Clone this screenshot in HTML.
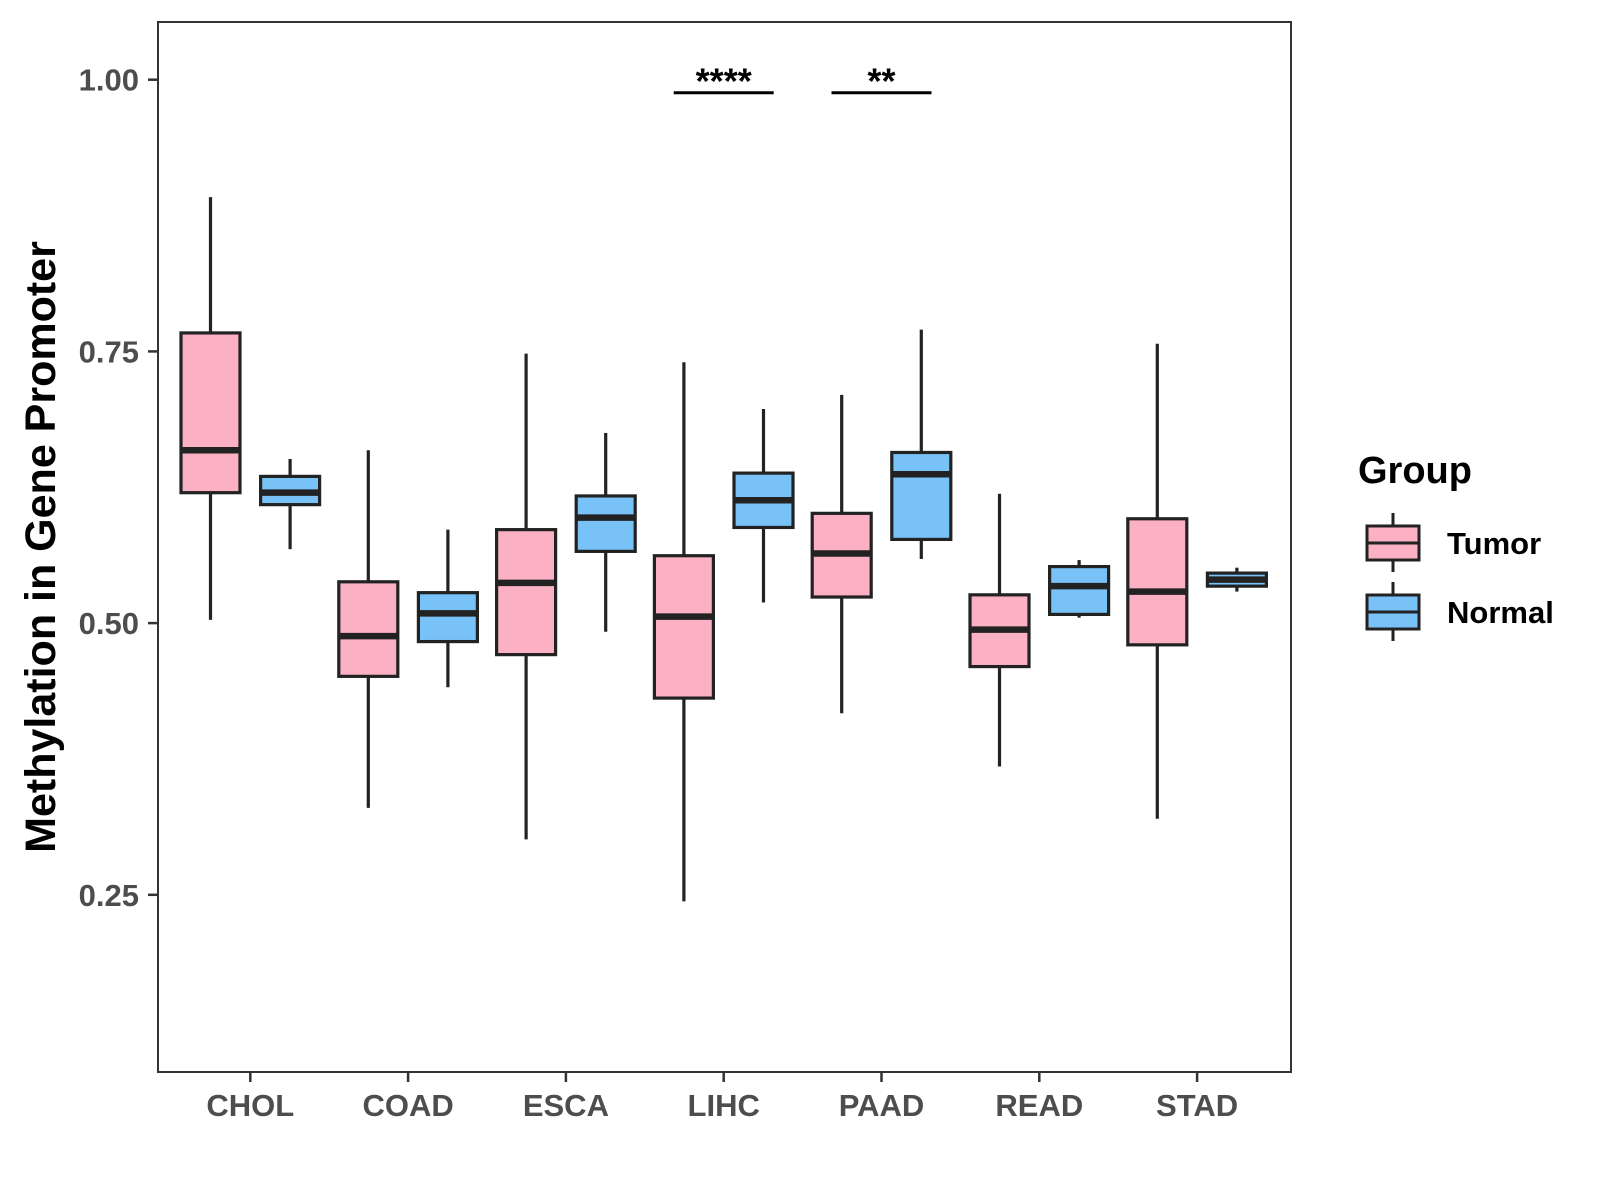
<!DOCTYPE html>
<html><head><meta charset="utf-8"><style>
body{margin:0;background:#fff;}
svg{display:block;font-family:"Liberation Sans",Arial,sans-serif;}
</style></head><body>
<svg id="chart" width="1600" height="1200" viewBox="0 0 1600 1200">
<rect x="0" y="0" width="1600" height="1200" fill="#fff"/>
<g id="plot"></g>
<text transform="translate(55,547) rotate(-90)" text-anchor="middle" font-size="43" font-weight="bold" fill="#000">Methylation in Gene Promoter</text>
<g>
<text x="1358" y="483" font-size="38" font-weight="bold" fill="#000">Group</text>
<g>
<line x1="1393" y1="513" x2="1393" y2="572" stroke="#222" stroke-width="3"/>
<rect x="1367" y="526" width="52" height="34" fill="#FBB1C3" stroke="#222" stroke-width="3"/>
<line x1="1367" y1="543" x2="1419" y2="543" stroke="#222" stroke-width="3"/>
<text x="1447" y="554" font-size="31" font-weight="bold" fill="#000">Tumor</text>
</g>
<g>
<line x1="1393" y1="582" x2="1393" y2="641" stroke="#222" stroke-width="3"/>
<rect x="1367" y="595" width="52" height="34" fill="#79C2F8" stroke="#222" stroke-width="3"/>
<line x1="1367" y1="612" x2="1419" y2="612" stroke="#222" stroke-width="3"/>
<text x="1447" y="623" font-size="31" font-weight="bold" fill="#000">Normal</text>
</g>
</g>
</svg>
<script>
const categories = ["CHOL","COAD","ESCA","LIHC","PAAD","READ","STAD"];
// [whiskerLow, Q1, median, Q3, whiskerHigh]
const tumorStats = [
 [0.503,0.620,0.659,0.767,0.892],
 [0.330,0.451,0.488,0.538,0.659],
 [0.301,0.471,0.537,0.586,0.748],
 [0.244,0.431,0.506,0.562,0.740],
 [0.417,0.524,0.564,0.601,0.710],
 [0.368,0.460,0.494,0.526,0.619],
 [0.320,0.480,0.529,0.596,0.757]
];
const normalStats = [
 [0.568,0.609,0.620,0.635,0.651],
 [0.441,0.483,0.509,0.528,0.586],
 [0.492,0.566,0.597,0.617,0.675],
 [0.519,0.588,0.613,0.638,0.697],
 [0.559,0.577,0.637,0.657,0.770],
 [0.505,0.508,0.534,0.552,0.558],
 [0.529,0.534,0.540,0.546,0.551]
];
const yTicks = [0.25,0.50,0.75,1.00];
const yTickLabels = ["0.25","0.50","0.75","1.00"];
const sigCategories = ["LIHC","PAAD"];
const sigLabels = ["****","**"];
const sigValue = 0.988;

const P = {l:158,r:1291,t:22,b:1072};
function yScale(v){ return 79.7 + (1 - v) * (894.8 - 79.7) / 0.75; }
function xScale(i){ return 250.3 + i * 157.8; }
const NS = "http://www.w3.org/2000/svg";
const plot = document.getElementById('plot');
function mk(tag, attrs, parent){ const e=document.createElementNS(NS,tag); for(const k in attrs) e.setAttribute(k,attrs[k]); (parent||plot).appendChild(e); return e; }

function drawBox(stats, cx, fill, name){
  const g = mk('g',{});
  
  
  const [lo,q1,md,q3,hi] = stats;
  const w = 59;
  mk('line',{x1:cx,x2:cx,y1:yScale(hi),y2:yScale(q3),stroke:'#222','stroke-width':3.2},g);
  mk('line',{x1:cx,x2:cx,y1:yScale(q1),y2:yScale(lo),stroke:'#222','stroke-width':3.2},g);
  mk('rect',{x:cx-w/2,y:yScale(q3),width:w,height:Math.max(1,yScale(q1)-yScale(q3)),fill:fill,stroke:'#222','stroke-width':3.2},g);
  mk('line',{x1:cx-w/2,x2:cx+w/2,y1:yScale(md),y2:yScale(md),stroke:'#222','stroke-width':6.5},g);
}

categories.forEach((c,i)=>{
  const cx = xScale(i);
  drawBox(tumorStats[i], cx-39.8, '#FBB1C3', 'box-tumor-'+c.toLowerCase());
  drawBox(normalStats[i], cx+39.8, '#79C2F8', 'box-normal-'+c.toLowerCase());
  const t = mk('line',{x1:cx,x2:cx,y1:P.b,y2:P.b+10,stroke:'#333','stroke-width':2.5});
  
  
  const lb = mk('text',{x:cx,y:P.b+44,'text-anchor':'middle','font-size':31,'font-weight':'bold',fill:'#4d4d4d'});
  lb.textContent = c;
  
  
});

yTicks.forEach((v,i)=>{
  const y = yScale(v);
  const t = mk('line',{x1:P.l-10,x2:P.l,y1:y,y2:y,stroke:'#333','stroke-width':2.5});
  
  
  const lb = mk('text',{x:P.l-19,y:y+11,'text-anchor':'end','font-size':31,'font-weight':'bold',fill:'#4d4d4d'});
  lb.textContent = yTickLabels[i];
  
  
});

sigCategories.forEach((c,i)=>{
  const cx = xScale(categories.indexOf(c));
  const y = yScale(sigValue);
  const ln = mk('line',{x1:cx-50,x2:cx+50,y1:y,y2:y,stroke:'#000','stroke-width':3});
  
  
  const tx = mk('text',{x:cx,y:y+1,'text-anchor':'middle','font-size':36,'font-weight':'bold',fill:'#000'});
  tx.textContent = sigLabels[i];
  
  
});

const frame = mk('rect',{x:P.l,y:P.t,width:P.r-P.l,height:P.b-P.t,fill:'none',stroke:'#333','stroke-width':2});


</script>
</body></html>
